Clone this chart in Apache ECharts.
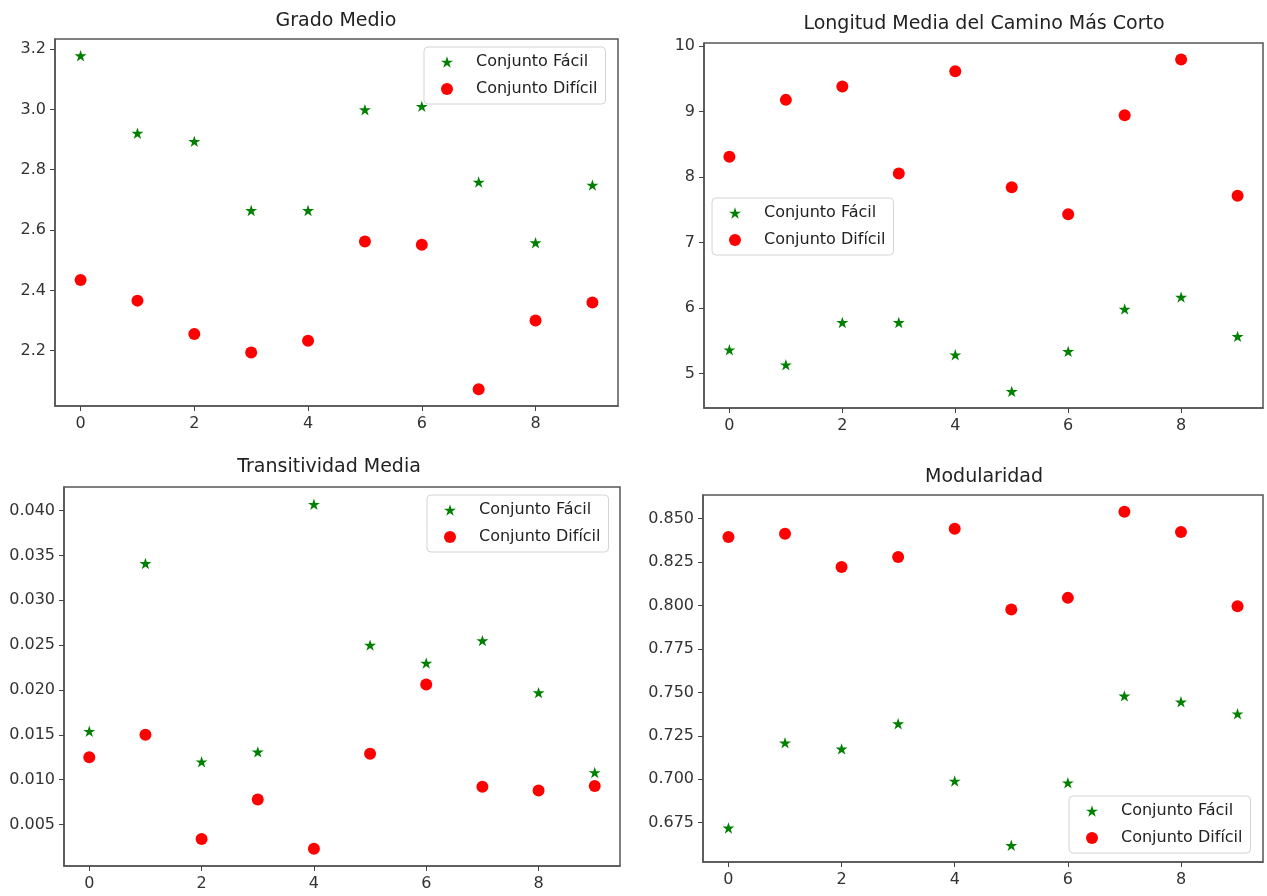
<!DOCTYPE html>
<html>
<head>
<meta charset="utf-8">
<script src="https://cdn.jsdelivr.net/npm/echarts@6/dist/echarts.min.js"></script>
<style>
  html, body { margin: 0; padding: 0; background: #fff; }
  #chart { width: 1267px; height: 896px; }
</style>
</head>
<body>
<div id="chart"></div>
<script>
// Network index (0..9) for each measured graph
const categories = [0, 1, 2, 3, 4, 5, 6, 7, 8, 9];

// Grado Medio
const gradoFacil   = [3.178, 2.921, 2.894, 2.665, 2.665, 2.999, 3.010, 2.759, 2.558, 2.749];
const gradoDificil = [2.434, 2.366, 2.255, 2.194, 2.233, 2.562, 2.551, 2.072, 2.300, 2.360];

// Longitud Media del Camino Más Corto
const longFacil   = [5.361, 5.132, 5.778, 5.778, 5.285, 4.725, 5.336, 5.982, 6.165, 5.565];
const longDificil = [8.306, 9.176, 9.379, 8.052, 9.613, 7.843, 7.431, 8.942, 9.791, 7.711];

// Transitividad Media
const transFacil   = [0.0154, 0.0341, 0.0120, 0.0131, 0.0407, 0.0250, 0.0230, 0.0255, 0.0197, 0.0108];
const transDificil = [0.0125, 0.0150, 0.0034, 0.0078, 0.0023, 0.0129, 0.0206, 0.0092, 0.0088, 0.0093];

// Modularidad
const modFacil   = [0.672, 0.721, 0.7175, 0.732, 0.699, 0.662, 0.698, 0.748, 0.7446, 0.7377];
const modDificil = [0.8394, 0.8413, 0.8221, 0.8279, 0.8442, 0.7977, 0.8044, 0.854, 0.8423, 0.7996];

// Tick labels
const xTicks     = [0, 2, 4, 6, 8];
const gradoTicks = [2.2, 2.4, 2.6, 2.8, 3.0, 3.2];
const longTicks  = [5, 6, 7, 8, 9, 10];
const transTicks = [0.005, 0.010, 0.015, 0.020, 0.025, 0.030, 0.035, 0.040];
const modTicks   = [0.675, 0.700, 0.725, 0.750, 0.775, 0.800, 0.825, 0.850];

const titles = ['Grado Medio', 'Longitud Media del Camino Más Corto', 'Transitividad Media', 'Modularidad'];
const seriesNames = ['Conjunto Fácil', 'Conjunto Difícil'];

const FONT = 'DejaVu Sans';
const GREEN = '#008000';
const RED = '#ff0000';
const SPINE = '#555';

// Five-pointed star marker
function starPath() {
  const pts = [];
  for (let k = 0; k < 10; k++) {
    const r = k % 2 === 0 ? 1 : 0.382;
    const a = (-90 + 36 * k) * Math.PI / 180;
    pts.push((r * Math.cos(a)).toFixed(4) + ' ' + (r * Math.sin(a)).toFixed(4));
  }
  return 'path://M' + pts.join(' L') + ' Z';
}
const STAR = starPath();

// Axis extent with 5% padding on each side of the data
function padded(a, b) {
  const lo = Math.min(...a, ...b), hi = Math.max(...a, ...b);
  const p = (hi - lo) * 0.05;
  return [lo - p, hi + p];
}
const xPad = (categories[categories.length - 1] - categories[0]) * 0.05;

const panels = [
  { facil: gradoFacil, dificil: gradoDificil, ticks: gradoTicks, dec: 1,
    grid: { left: 55, top: 39, width: 563, height: 367 },
    title: { x: 336, y: 12 }, legend: { left: 424, top: 47 } },
  { facil: longFacil, dificil: longDificil, ticks: longTicks, dec: 0,
    grid: { left: 704, top: 43, width: 559, height: 365 },
    title: { x: 984, y: 15 }, legend: { left: 712, top: 198 } },
  { facil: transFacil, dificil: transDificil, ticks: transTicks, dec: 3,
    grid: { left: 64, top: 487, width: 556, height: 379 },
    title: { x: 329, y: 458 }, legend: { left: 427, top: 495 } },
  { facil: modFacil, dificil: modDificil, ticks: modTicks, dec: 3,
    grid: { left: 703, top: 495, width: 560, height: 367 },
    title: { x: 984, y: 468 }, legend: { left: 1069, top: 796 } }
];

const option = {
  animation: false,
  backgroundColor: '#ffffff',
  title: [], legend: [], grid: [], xAxis: [], yAxis: [], series: []
};

panels.forEach((p, i) => {
  option.title.push({
    text: titles[i], left: p.title.x, top: p.title.y, textAlign: 'center', padding: 0,
    textStyle: { fontFamily: FONT, fontSize: 19, fontWeight: 'normal', color: '#222' }
  });
  option.grid.push(Object.assign({
    show: true, borderColor: SPINE, borderWidth: 1.5, backgroundColor: 'transparent'
  }, p.grid));
  option.xAxis.push({
    type: 'value', gridIndex: i, position: 'bottom',
    min: categories[0] - xPad, max: categories[categories.length - 1] + xPad,
    splitLine: { show: false },
    axisLine: { show: true, onZero: false, lineStyle: { color: SPINE, width: 1.5 } },
    axisTick: { show: true, length: 5, customValues: xTicks, lineStyle: { color: '#444' } },
    axisLabel: { customValues: xTicks, margin: 10, fontFamily: FONT, fontSize: 16, color: '#333',
      formatter: v => String(v) }
  });
  const ext = padded(p.facil, p.dificil);
  option.yAxis.push({
    type: 'value', gridIndex: i, position: 'left', min: ext[0], max: ext[1],
    splitLine: { show: false },
    axisLine: { show: true, onZero: false, lineStyle: { color: SPINE, width: 1.5 } },
    axisTick: { show: true, length: 5, customValues: p.ticks, lineStyle: { color: '#444' } },
    axisLabel: { customValues: p.ticks, margin: 9, fontFamily: FONT, fontSize: 16, color: '#333',
      formatter: v => Number(v).toFixed(p.dec) }
  });
  option.series.push({
    name: seriesNames[0], type: 'scatter', xAxisIndex: i, yAxisIndex: i,
    symbol: STAR, symbolSize: 12, symbolKeepAspect: true,
    itemStyle: { color: GREEN, opacity: 1 },
    data: categories.map((c, k) => [c, p.facil[k]])
  });
  option.series.push({
    name: seriesNames[1], type: 'scatter', xAxisIndex: i, yAxisIndex: i,
    symbol: 'circle', symbolSize: 12,
    itemStyle: { color: RED, opacity: 1 },
    data: categories.map((c, k) => [c, p.dificil[k]])
  });
  option.legend.push({
    orient: 'vertical', left: p.legend.left, top: p.legend.top,
    data: seriesNames, selectedMode: false,
    itemWidth: 12, itemHeight: 12, itemGap: 11,
    padding: [7, 8, 7, 17],
    borderColor: '#d4d4d4', borderWidth: 1, borderRadius: 4,
    backgroundColor: 'rgba(255,255,255,0.8)',
    textStyle: { fontFamily: FONT, fontSize: 16, color: '#222', lineHeight: 16, padding: [0, 0, 0, 18] }
  });
});

const chart = echarts.init(document.getElementById('chart'), null, { renderer: 'canvas' });
chart.setOption(option);
</script>
</body>
</html>
